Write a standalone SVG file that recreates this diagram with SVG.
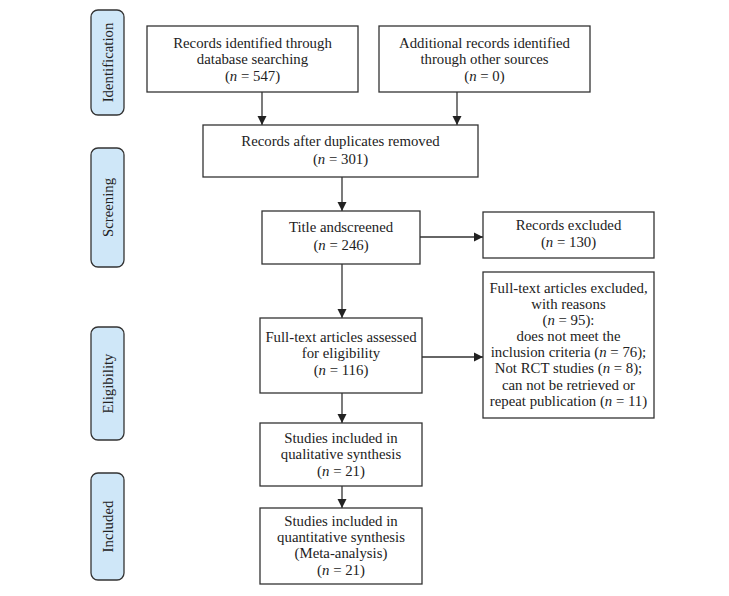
<svg xmlns="http://www.w3.org/2000/svg" width="729" height="596" viewBox="0 0 729 596">
<defs>
<style>
.box{fill:#fff;stroke:#333;stroke-width:1.3}
.side{fill:#cfe7f8;stroke:#333;stroke-width:1.3}
text{font-family:"Liberation Serif","Times New Roman",serif;font-size:14.8px;fill:#222;text-anchor:middle}
.it{font-style:italic}
.con{stroke:#333;stroke-width:1.3;fill:none;marker-end:url(#ah)}
</style>
<marker id="ah" markerUnits="userSpaceOnUse" markerWidth="10" markerHeight="10" refX="9" refY="5" orient="auto">
<path d="M0,0.5 L9,5 L0,9.5 Z" fill="#222"/>
</marker>
</defs>
<rect width="729" height="596" fill="#fff"/>

<g id="side-identification"><rect class="side" x="91" y="10" width="33" height="105" rx="7"/><text transform="translate(112.5,62.5) rotate(-90)">Identification</text></g>
<g id="side-screening"><rect class="side" x="91" y="148" width="33" height="119" rx="7"/><text transform="translate(112.5,207.5) rotate(-90)">Screening</text></g>
<g id="side-eligibility"><rect class="side" x="91" y="327" width="33" height="113" rx="7"/><text transform="translate(112.5,383.5) rotate(-90)">Eligibility</text></g>
<g id="side-included"><rect class="side" x="91" y="473" width="33" height="107" rx="7"/><text transform="translate(112.5,526.5) rotate(-90)">Included</text></g>

<g id="connectors">
<path class="con" d="M262,92 V125"/>
<path class="con" d="M457,92 V125"/>
<path class="con" d="M342,177 V211"/>
<path class="con" d="M420,237 H483"/>
<path class="con" d="M342,264 V318"/>
<path class="con" d="M422,357 H483"/>
<path class="con" d="M342,393 V423"/>
<path class="con" d="M342,486 V508"/>
</g>

<g id="n-database"><rect class="box" x="147" y="26" width="211" height="66"/>
<text x="252.5" y="48">Records identified through</text>
<text x="252.5" y="64">database searching</text>
<text x="252.5" y="81">(<tspan class="it">n</tspan> = 547)</text></g>

<g id="n-other"><rect class="box" x="379" y="26" width="211" height="66"/>
<text x="484.5" y="48">Additional records identified</text>
<text x="484.5" y="64">through other sources</text>
<text x="484.5" y="81">(<tspan class="it">n</tspan> = 0)</text></g>

<g id="n-dup"><rect class="box" x="203" y="125" width="275" height="52"/>
<text x="340.5" y="146">Records after duplicates removed</text>
<text x="340.5" y="164">(<tspan class="it">n</tspan> = 301)</text></g>

<g id="n-title"><rect class="box" x="262" y="211" width="158" height="53"/>
<text x="341" y="232">Title andscreened</text>
<text x="341" y="250">(<tspan class="it">n</tspan> = 246)</text></g>

<g id="n-excl"><rect class="box" x="483" y="212" width="171" height="46"/>
<text x="568.5" y="230">Records excluded</text>
<text x="568.5" y="247">(<tspan class="it">n</tspan> = 130)</text></g>

<g id="n-ftexcl"><rect class="box" x="483" y="272" width="171" height="146"/>
<text x="568.5" y="293">Full-text articles excluded,</text>
<text x="568.5" y="309">with reasons</text>
<text x="568.5" y="325">(<tspan class="it">n</tspan> = 95):</text>
<text x="568.5" y="341">does not meet the</text>
<text x="568.5" y="357">inclusion criteria (<tspan class="it">n</tspan> = 76);</text>
<text x="568.5" y="373">Not RCT studies (<tspan class="it">n</tspan> = 8);</text>
<text x="568.5" y="390">can not be retrieved or</text>
<text x="568.5" y="406">repeat publication (<tspan class="it">n</tspan> = 11)</text></g>

<g id="n-ftassess"><rect class="box" x="260" y="318" width="162" height="75"/>
<text x="341" y="342">Full-text articles assessed</text>
<text x="341" y="358">for eligibility</text>
<text x="341" y="375">(<tspan class="it">n</tspan> = 116)</text></g>

<g id="n-qual"><rect class="box" x="260" y="423" width="162" height="63"/>
<text x="341" y="443">Studies included in</text>
<text x="341" y="459">qualitative synthesis</text>
<text x="341" y="476">(<tspan class="it">n</tspan> = 21)</text></g>

<g id="n-quant"><rect class="box" x="260" y="508" width="162" height="76"/>
<text x="341" y="526">Studies included in</text>
<text x="341" y="542">quantitative synthesis</text>
<text x="341" y="558">(Meta-analysis)</text>
<text x="341" y="575">(<tspan class="it">n</tspan> = 21)</text></g>
</svg>
